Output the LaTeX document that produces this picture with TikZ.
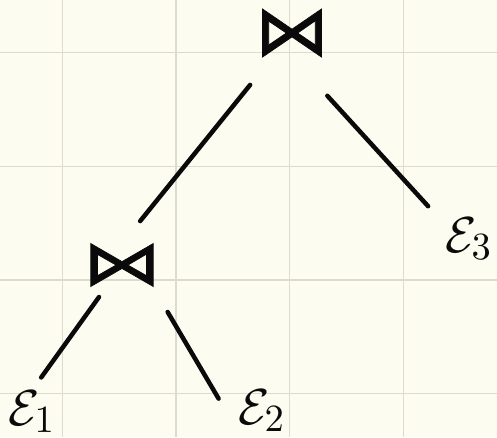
\documentclass[tikz,border=0pt]{standalone}
\usepackage{fontspec}
\usepackage{graphicx}
\usetikzlibrary{positioning}
\newfontfamily\joinfont[FakeBold=1]{DejaVu Sans}
\definecolor{paper}{HTML}{FDFCF0}
\definecolor{gridgray}{HTML}{DDDAD0}
\definecolor{ink}{HTML}{0A0A0A}

\begin{document}
\begin{tikzpicture}[x=0.1mm, y=-0.1mm,
  gridline/.style={draw=gridgray, line width=0.15mm},
  joinop/.style={inner sep=0pt, outer sep=0pt, text=ink},
  rel/.style={inner sep=0pt, outer sep=0pt, text=ink, anchor=base west,
    font=\fontsize{15}{18}\selectfont},
  edge/.style={draw=ink, line width=0.45mm, line cap=round}]
\fill[paper] (0,0) rectangle (497,437);
\useasboundingbox (0,0) rectangle (497,437);
% squared paper
\foreach \g in {62.3,176,289.7,403.4} {
  \draw[gridline] (\g,0) -- (\g,437);
}
\foreach \g in {52.7,166.4,280,393.7} {
  \draw[gridline] (0,\g) -- (497,\g);
}
% join tree
\node[joinop] (top) at (292,33) {\resizebox{7.5mm}{4.6mm}{\joinfont ⋈}};
\node[joinop] (bot) at (122,265) {\resizebox{7.9mm}{4.1mm}{\joinfont ⋈}};
\node[rel] (e1) at (8,425) {$\mathcal{E}_1$};
\node[rel] (e2) at (238,424) {$\mathcal{E}_2$};
\node[rel] (e3) at (445,252) {$\mathcal{E}_3$};
\draw[edge, shorten <=6.67mm, shorten >=2.89mm] (top.center) -- (bot.north);
\draw[edge, shorten <=5.24mm, shorten >=2.51mm] (top.south) -- (e3.150);
\draw[edge, shorten <=3.94mm, shorten >=1.6mm] (bot.center) -- (e1.north);
\draw[edge, shorten <=2.96mm, shorten >=3.83mm] (bot.-35) -- (e2.south west);
\end{tikzpicture}
\end{document}
